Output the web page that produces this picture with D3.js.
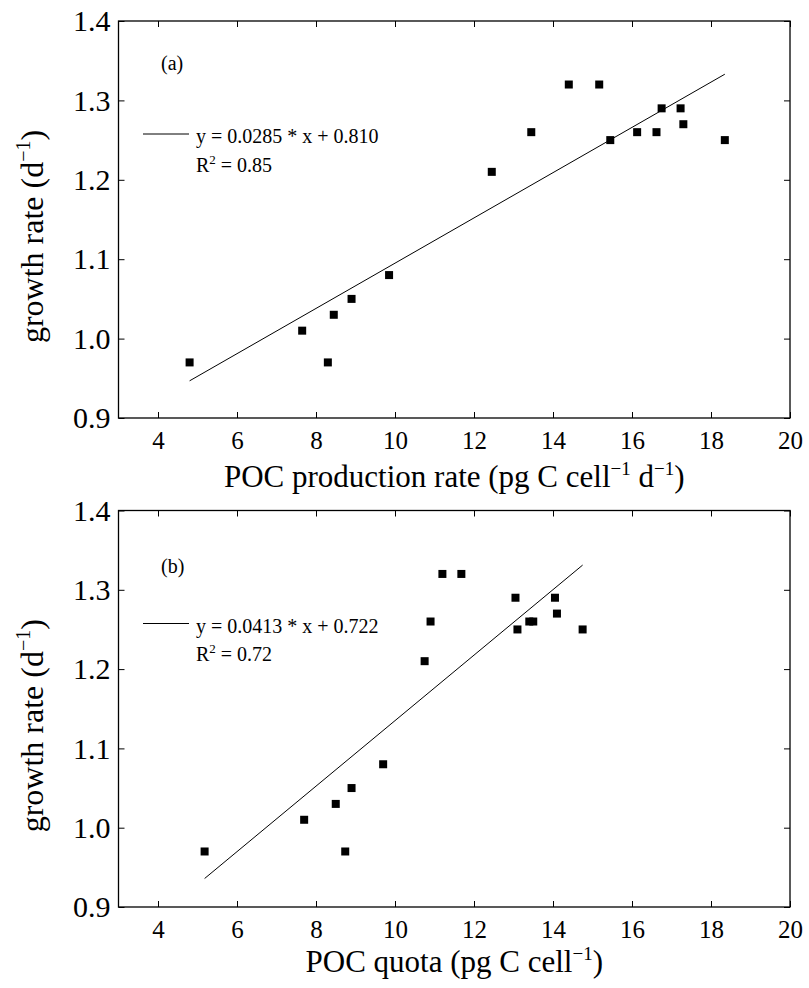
<!DOCTYPE html>
<html>
<head>
<meta charset="utf-8">
<script src="https://cdn.jsdelivr.net/npm/d3@7"></script>
<style>
  body { margin: 0; background: #fff; }
  svg text { font-family: "Liberation Serif", "Times New Roman", Times, serif; fill: #000; }
</style>
</head>
<body>
<div id="chart"></div>
<script>
// panel (a): growth rate vs POC production rate
var prodRate = [4.8, 7.65, 8.3, 8.45, 8.9, 9.85, 12.45, 13.45, 14.4, 15.17, 15.45, 16.13, 16.62, 16.75, 17.23, 17.3, 18.35];
var growthA  = [0.97, 1.01, 0.97, 1.03, 1.05, 1.08, 1.21, 1.26, 1.32, 1.32, 1.25, 1.26, 1.26, 1.29, 1.29, 1.27, 1.25];

// panel (b): growth rate vs POC quota
var quota   = [5.18, 7.7, 8.74, 8.5, 8.9, 9.7, 10.75, 10.9, 11.2, 11.68, 13.05, 13.1, 13.4, 13.5, 14.05, 14.1, 14.75];
var growthB = [0.97, 1.01, 0.97, 1.03, 1.05, 1.08, 1.21, 1.26, 1.32, 1.32, 1.29, 1.25, 1.26, 1.26, 1.29, 1.27, 1.25];

// linear fits shown in the legends
var fitSlope = [0.0285, 0.0413];
var fitIntercept = [0.810, 0.722];
var fitR2 = ["0.85", "0.72"];
var fitText = ["y = 0.0285 * x + 0.810", "y = 0.0413 * x + 0.722"];

var xTicks = [4, 6, 8, 10, 12, 14, 16, 18, 20];
var yTicks = [0.9, 1.0, 1.1, 1.2, 1.3, 1.4];

var serif = "Liberation Serif, Times New Roman, Times, serif";
var width = 809, height = 988;
var svg = d3.select("#chart").append("svg")
    .attr("width", width)
    .attr("height", height)
    .attr("font-family", serif);

var x = d3.scaleLinear().domain([3, 20]).range([118.5, 790]);

function drawPanel(top, bottom, xs, ys, idx, tag, xLabelParts, xLabelY, tagY) {
    var y = d3.scaleLinear().domain([0.9, 1.4]).range([bottom, top]);
    var g = svg.append("g");

    // bottom axis
    var ax = g.append("g")
        .attr("transform", "translate(0," + bottom + ")")
        .call(d3.axisBottom(x).tickValues(xTicks).tickSizeInner(-6).tickSizeOuter(0).tickPadding(13));
    ax.attr("font-family", serif).attr("font-size", 25);
    // top axis, ticks only
    g.append("g")
        .attr("transform", "translate(0," + top + ")")
        .call(d3.axisTop(x).tickValues(xTicks).tickSizeInner(-6).tickSizeOuter(0).tickFormat(""));
    // left axis
    var ay = g.append("g")
        .attr("transform", "translate(" + x.range()[0] + ",0)")
        .call(d3.axisLeft(y).tickValues(yTicks).tickSizeInner(-6).tickSizeOuter(0).tickPadding(8).tickFormat(d3.format(".1f")));
    ay.attr("font-family", serif).attr("font-size", 30);
    // right axis, ticks only
    g.append("g")
        .attr("transform", "translate(" + x.range()[1] + ",0)")
        .call(d3.axisRight(y).tickValues(yTicks).tickSizeInner(-6).tickSizeOuter(0).tickFormat(""));

    g.selectAll(".domain").remove();
    g.selectAll(".tick line").attr("stroke", "#000").attr("stroke-width", 1);

    // box
    g.append("rect")
        .attr("x", x.range()[0])
        .attr("y", top)
        .attr("width", x.range()[1] - x.range()[0])
        .attr("height", bottom - top)
        .attr("fill", "none")
        .attr("stroke", "#000")
        .attr("stroke-width", 1.3);

    // fit line over data range
    var x0 = d3.min(xs), x1 = d3.max(xs);
    g.append("line")
        .attr("x1", x(x0)).attr("y1", y(fitSlope[idx] * x0 + fitIntercept[idx]))
        .attr("x2", x(x1)).attr("y2", y(fitSlope[idx] * x1 + fitIntercept[idx]))
        .attr("stroke", "#000")
        .attr("stroke-width", 1);

    // points
    var s = 8;
    g.selectAll("rect.pt")
        .data(xs.map(function (d, i) { return [d, ys[i]]; }))
        .enter().append("rect")
        .attr("class", "pt")
        .attr("x", function (d) { return x(d[0]) - s / 2; })
        .attr("y", function (d) { return y(d[1]) - s / 2; })
        .attr("width", s)
        .attr("height", s)
        .attr("fill", "#000");

    // panel tag
    g.append("text")
        .attr("x", 161)
        .attr("y", tagY)
        .attr("font-size", 20)
        .text(tag);

    // legend
    var ly = top + 113;
    g.append("line")
        .attr("x1", 143).attr("x2", 189)
        .attr("y1", ly).attr("y2", ly)
        .attr("stroke", "#000")
        .attr("stroke-width", 1);
    g.append("text")
        .attr("x", 196)
        .attr("y", ly + 9)
        .attr("font-size", 20)
        .text(fitText[idx]);
    var r2 = g.append("text")
        .attr("x", 196)
        .attr("y", ly + 37.5)
        .attr("font-size", 20);
    r2.append("tspan").text("R");
    r2.append("tspan").attr("dy", -8).attr("font-size", 13).text("2");
    r2.append("tspan").attr("dy", 8).text(" = " + fitR2[idx]);

    // x label
    var xl = g.append("text")
        .attr("x", (x.range()[0] + x.range()[1]) / 2)
        .attr("y", xLabelY)
        .attr("font-size", 31)
        .attr("text-anchor", "middle");
    xLabelParts.forEach(function (p) {
        var t = xl.append("tspan").text(p[0]);
        if (p[1]) t.attr("font-size", 19).attr("dy", -12);
        else if (p[2]) t.attr("dy", 12);
    });

    // y label
    var yl = g.append("text")
        .attr("transform", "translate(43," + ((top + bottom) / 2 + 17) + ") rotate(-90)")
        .attr("font-size", 32)
        .attr("text-anchor", "middle");
    yl.append("tspan").text("growth rate (d");
    yl.append("tspan").attr("font-size", 20).attr("dy", -13).text("\u22121");
    yl.append("tspan").attr("dy", 13).text(")");
}

drawPanel(21, 418, prodRate, growthA, 0, "(a)",
    [["POC production rate (pg C cell"], ["\u22121", true], [" d", false, true], ["\u22121", true], [")", false, true]],
    487, 70);
drawPanel(510.5, 907, quota, growthB, 1, "(b)",
    [["POC quota (pg C cell"], ["\u22121", true], [")", false, true]],
    972, 573);
</script>
</body>
</html>
